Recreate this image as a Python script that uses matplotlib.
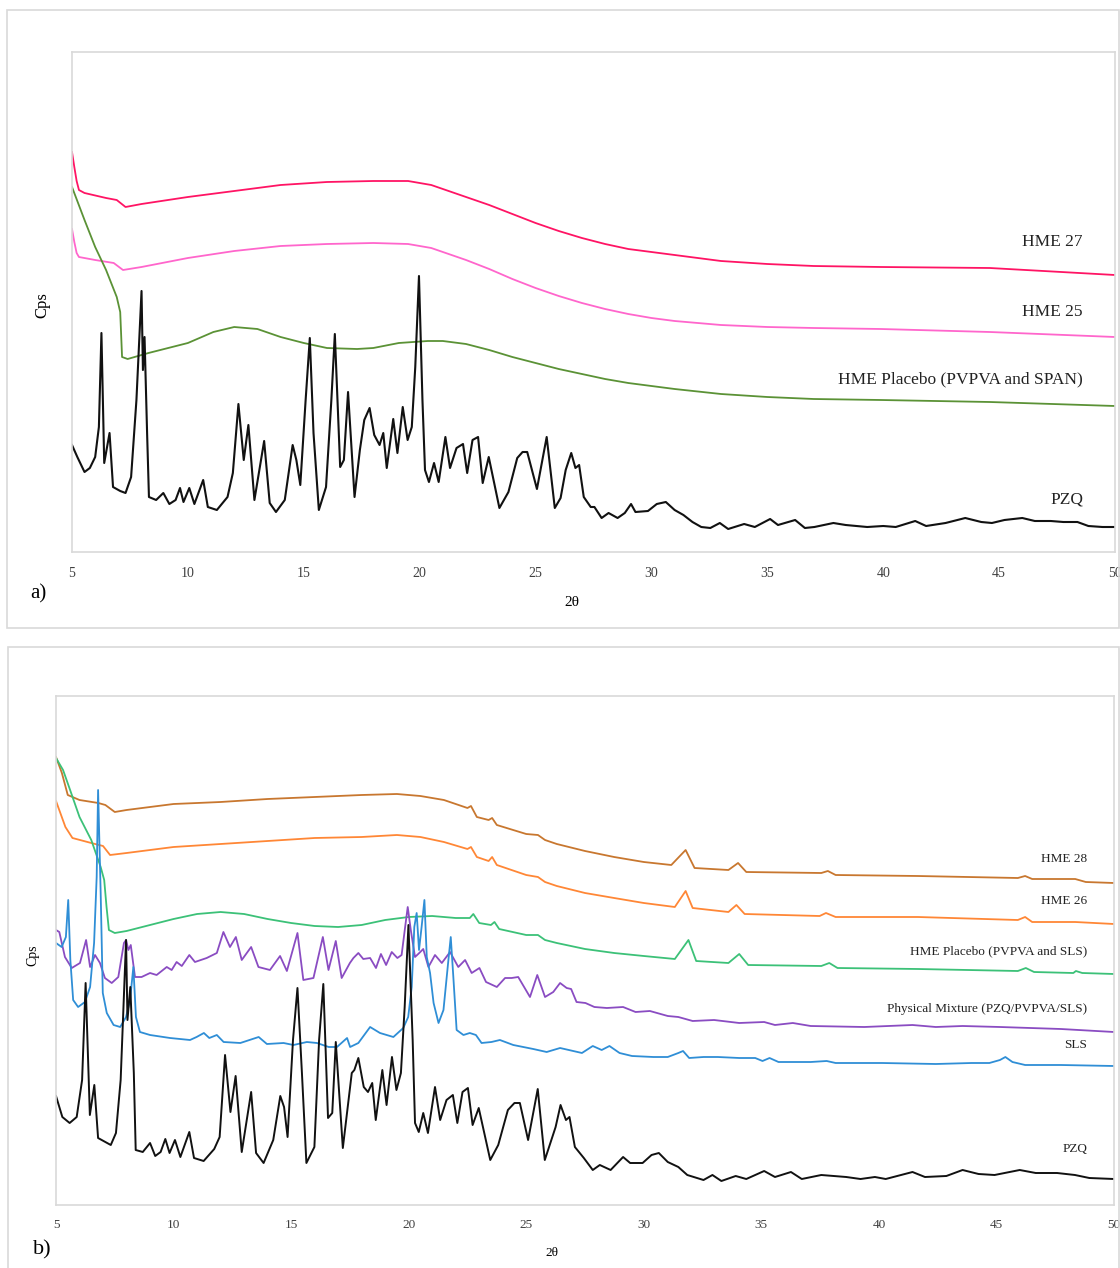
import numpy as np
import matplotlib.pyplot as plt
from matplotlib.patches import Rectangle

# ---- panel a: (2theta, counts in arbitrary units) ----
a_hme27 = [(5.0, 400), (5.1, 385), (5.2, 371), (5.3, 362), (5.54, 359), (6.47, 354), (6.93, 352),
           (7.31, 345), (8.0, 348), (10, 355), (12, 361), (14, 367), (16, 370), (18, 371),
           (19.5, 371), (20.5, 367), (21, 363), (22, 355), (23, 347), (24, 338), (25, 329),
           (26, 321), (27, 314), (28, 308), (29, 303), (30, 300), (31, 297), (33, 291),
           (35, 288), (37, 286), (39.9, 285), (44.6, 284), (50, 277)]
a_hme25 = [(5.0, 323), (5.1, 310), (5.2, 299), (5.3, 295), (6.0, 292), (6.8, 289), (7.2, 282),
           (8.0, 285), (10, 294), (12, 301), (14, 306), (16, 308), (18, 309), (19.5, 308),
           (20.5, 304), (21, 300), (22, 292), (23, 283), (24, 273), (25, 264), (26, 256),
           (27, 249), (28, 243), (29, 238), (30, 234), (31, 231), (33, 227), (35, 225),
           (37, 224), (39.9, 223), (44.6, 220), (50, 215)]
a_placebo = [(5.0, 365), (5.54, 332), (6.0, 305), (6.47, 282), (6.93, 255), (7.08, 240),
             (7.16, 195), (7.4, 193), (8.3, 199), (10, 209), (11.1, 220), (12, 225),
             (13, 223), (14, 215), (15, 209), (16, 204), (17.3, 203), (18, 204), (19.1, 209),
             (20.35, 211), (21, 211), (22, 208), (23, 202), (24, 195), (25, 189), (26, 183),
             (27, 178), (28, 173), (29, 169), (30, 166), (31, 163), (33, 158), (35, 155),
             (37, 153), (39.9, 152), (44.6, 150), (50, 146)]
a_pzq = [(5.0, 107), (5.23, 95), (5.54, 80), (5.77, 84), (6.0, 95), (6.16, 125), (6.27, 219),
         (6.39, 89), (6.62, 119), (6.77, 65), (7.08, 61), (7.31, 59), (7.55, 75), (7.78, 152),
         (8.0, 261), (8.06, 182), (8.13, 215), (8.24, 119), (8.32, 55), (8.63, 52), (8.94, 59),
         (9.2, 48), (9.47, 52), (9.66, 64), (9.81, 50), (10.06, 64), (10.28, 48), (10.66, 72),
         (10.86, 45), (11.25, 42), (11.71, 55), (11.94, 79), (12.18, 148), (12.41, 92),
         (12.61, 127), (12.87, 52), (13.29, 111), (13.53, 49), (13.8, 40), (14.18, 52),
         (14.52, 107), (14.68, 92), (14.85, 67), (15.08, 152), (15.26, 214), (15.42, 119),
         (15.65, 42), (15.96, 65), (16.19, 152), (16.34, 218), (16.57, 85), (16.73, 92),
         (16.91, 160), (17.19, 55), (17.42, 102), (17.61, 132), (17.84, 144), (18.04, 117),
         (18.27, 107), (18.43, 119), (18.58, 84), (18.86, 133), (19.04, 99), (19.27, 145),
         (19.48, 112), (19.66, 125), (19.81, 185), (19.97, 276), (20.12, 152), (20.23, 82),
         (20.4, 70), (20.62, 89), (20.82, 70), (21.11, 115), (21.31, 84), (21.59, 104),
         (21.87, 108), (22.05, 79), (22.28, 112), (22.52, 115), (22.72, 69), (22.98, 95),
         (23.44, 44), (23.83, 60), (24.21, 94), (24.44, 100), (24.64, 100), (25.06, 63),
         (25.48, 115), (25.83, 44), (26.08, 54), (26.3, 82), (26.54, 99), (26.72, 84),
         (26.88, 87), (27.08, 55), (27.38, 45), (27.54, 45), (27.85, 34), (28.15, 39),
         (28.54, 34), (28.85, 39), (29.12, 48), (29.31, 40), (29.85, 41), (30.23, 48),
         (30.62, 50), (31.0, 42), (31.38, 37), (31.77, 30), (32.15, 25), (32.54, 24),
         (32.95, 29), (33.31, 23), (34.0, 28), (34.46, 25), (35.12, 33), (35.46, 27),
         (36.2, 32), (36.62, 24), (37.03, 25), (37.85, 29), (38.38, 27), (39.31, 25),
         (40.0, 26), (40.54, 25), (41.38, 31), (41.85, 26), (42.69, 29), (43.54, 34),
         (44.23, 30), (44.69, 29), (45.23, 32), (46.0, 34), (46.54, 31), (47.23, 31),
         (47.77, 30), (48.38, 30), (48.85, 26), (49.46, 25), (50.0, 25)]

# ---- panel b ----
b_hme28 = [(5.0, 448), (5.25, 432), (5.5, 410), (6.0, 405), (6.8, 402), (7.1, 400), (7.5, 393),
           (8.0, 395), (10, 401), (12, 403), (14, 406), (16, 408), (18, 410), (19.5, 411),
           (20.5, 409), (21.5, 405), (22.5, 397), (22.65, 399), (22.9, 388), (23.4, 385),
           (23.55, 387), (23.75, 380), (25, 371), (25.5, 370), (25.8, 365), (26.3, 361),
           (27.5, 354), (28.74, 348), (30, 343), (31.17, 340), (31.78, 355), (32.16, 337),
           (33.6, 335), (34.01, 342), (34.36, 333), (37.55, 332), (37.83, 334), (38.16, 330),
           (41.66, 329), (45.91, 327), (46.22, 329), (46.52, 326), (48.35, 326), (48.8, 323),
           (50, 322)]
b_hme26 = [(5.0, 404), (5.4, 378), (5.7, 367), (6.5, 362), (7.0, 359), (7.3, 350), (8.0, 352),
           (10, 358), (12, 361), (14, 364), (16, 367), (18, 368), (19.5, 370), (20.5, 368),
           (21.5, 363), (22.5, 356), (22.65, 358), (22.9, 348), (23.4, 344), (23.55, 348),
           (23.75, 340), (25, 330), (25.5, 328), (25.8, 323), (26.3, 319), (27.5, 312),
           (28.74, 307), (30, 302), (31.32, 298), (31.78, 314), (32.08, 297), (33.6, 293),
           (33.94, 300), (34.29, 291), (37.48, 289), (37.75, 292), (38.16, 288), (41.66, 288),
           (45.91, 285), (46.22, 288), (46.52, 283), (48.35, 283), (50, 281)]
b_placebo = [(5.0, 447), (5.3, 435), (5.6, 415), (6.0, 388), (6.5, 365), (6.9, 338), (7.05, 325),
             (7.15, 298), (7.25, 275), (7.5, 272), (8.0, 274), (9, 280), (10, 286), (11, 291),
             (12, 293), (13, 291), (14, 286), (15, 282), (16, 279), (17, 278), (18, 280),
             (19, 285), (20, 288), (21, 289), (22, 287), (22.6, 287), (22.75, 291), (23.0, 282),
             (23.5, 280), (23.65, 283), (23.85, 276), (25, 270), (25.5, 270), (25.8, 265),
             (26.3, 262), (27.5, 256), (28.74, 252), (30, 249), (31.32, 246), (31.9, 265),
             (32.23, 244), (33.6, 242), (34.06, 251), (34.44, 240), (37.55, 239), (37.89, 242),
             (38.24, 237), (41.66, 236), (45.91, 234), (46.25, 237), (46.6, 233), (48.27, 232),
             (48.38, 234), (48.65, 232), (50, 231)]
b_mixture = [(5.0, 275), (5.14, 273), (5.38, 248), (5.67, 237), (6.02, 242), (6.28, 265),
             (6.45, 238), (6.66, 250), (6.87, 242), (7.08, 227), (7.37, 222), (7.65, 228),
             (7.89, 262), (7.98, 265), (8.08, 255), (8.18, 260), (8.36, 228), (8.64, 228),
             (9.0, 232), (9.28, 230), (9.71, 238), (9.92, 235), (10.13, 243), (10.35, 239),
             (10.67, 250), (10.91, 243), (11.41, 247), (11.84, 252), (12.12, 273), (12.4, 258),
             (12.65, 268), (12.9, 245), (13.3, 258), (13.61, 238), (14.1, 235), (14.53, 249),
             (14.82, 234), (15.27, 272), (15.52, 225), (15.95, 227), (16.35, 268), (16.59, 235),
             (16.9, 264), (17.15, 227), (17.5, 242), (17.65, 247), (17.86, 252), (18.07, 246),
             (18.36, 247), (18.61, 237), (18.82, 251), (19.04, 240), (19.28, 253), (19.52, 247),
             (19.7, 250), (19.85, 278), (19.96, 298), (20.09, 275), (20.27, 248), (20.45, 252),
             (20.62, 256), (20.84, 238), (21.12, 250), (21.41, 242), (21.76, 253), (22.11, 238),
             (22.4, 245), (22.68, 232), (23.01, 237), (23.29, 223), (23.75, 218), (24.1, 227),
             (24.38, 227), (24.66, 228), (25.16, 208), (25.47, 230), (25.8, 208), (26.15, 213),
             (26.44, 222), (26.72, 217), (26.91, 216), (27.14, 203), (27.52, 202), (27.9, 198),
             (28.43, 197), (29.12, 198), (29.65, 193), (30.26, 194), (31.02, 189), (31.47, 188),
             (32.08, 184), (32.99, 185), (34.06, 182), (35.12, 183), (35.58, 180), (36.34, 182),
             (37.1, 179), (39.38, 178), (41.43, 180), (42.42, 178), (43.56, 179), (45.15, 178),
             (47.74, 176), (50, 173)]
b_sls = [(5.0, 262), (5.24, 258), (5.42, 268), (5.52, 305), (5.61, 245), (5.73, 205),
         (5.94, 198), (6.23, 203), (6.45, 218), (6.62, 262), (6.73, 328), (6.79, 415),
         (6.9, 312), (6.99, 212), (7.16, 192), (7.45, 180), (7.73, 178), (7.98, 188),
         (8.15, 205), (8.29, 238), (8.4, 188), (8.57, 173), (9.0, 170), (9.85, 167), (10.7, 165),
         (10.98, 168), (11.29, 172), (11.52, 167), (11.84, 170), (12.13, 163), (12.84, 162),
         (13.62, 168), (13.97, 161), (14.68, 162), (15.1, 160), (15.67, 163), (16.1, 162),
         (16.6, 158), (16.95, 158), (17.38, 167), (17.51, 158), (17.86, 162), (18.36, 178),
         (18.78, 172), (19.35, 168), (19.77, 177), (19.98, 188), (20.13, 218), (20.24, 278),
         (20.34, 292), (20.44, 255), (20.55, 278), (20.67, 305), (20.77, 248), (20.91, 232),
         (21.06, 202), (21.27, 182), (21.48, 195), (21.69, 245), (21.79, 268), (21.9, 228),
         (22.04, 175), (22.33, 170), (22.6, 172), (22.86, 170), (23.1, 162), (23.52, 163),
         (23.88, 165), (24.45, 160), (25.3, 156), (25.87, 153), (26.44, 157), (27.37, 152),
         (27.83, 159), (28.21, 155), (28.54, 159), (28.97, 152), (29.5, 149), (30.41, 148),
         (31.02, 148), (31.47, 152), (31.67, 154), (31.93, 147), (32.54, 148), (33.15, 148),
         (34.06, 147), (34.74, 147), (35.05, 144), (35.35, 147), (35.73, 143), (37.1, 143),
         (37.78, 144), (38.16, 142), (40.14, 142), (42.42, 141), (43.94, 142), (44.7, 142),
         (45.15, 145), (45.38, 148), (45.68, 143), (46.22, 140), (47.74, 140), (50, 139)]
b_pzq = [(5.0, 109), (5.27, 88), (5.58, 82), (5.88, 88), (6.11, 125), (6.26, 222), (6.44, 90),
         (6.63, 120), (6.79, 67), (7.1, 63), (7.33, 60), (7.55, 72), (7.75, 125), (7.98, 265),
         (8.04, 185), (8.16, 218), (8.31, 132), (8.39, 55), (8.69, 53), (9.0, 62), (9.22, 49),
         (9.45, 53), (9.65, 66), (9.83, 52), (10.06, 65), (10.29, 48), (10.67, 73), (10.87, 47),
         (11.28, 44), (11.73, 56), (11.96, 68), (12.19, 150), (12.42, 93), (12.64, 129),
         (12.9, 53), (13.3, 113), (13.51, 52), (13.83, 42), (14.24, 65), (14.54, 109), (14.7, 98),
         (14.85, 68), (15.08, 165), (15.27, 217), (15.46, 132), (15.65, 42), (15.99, 58),
         (16.19, 165), (16.37, 221), (16.57, 87), (16.75, 92), (16.9, 163), (17.2, 57),
         (17.58, 132), (17.69, 135), (17.86, 147), (18.09, 118), (18.27, 113), (18.45, 122),
         (18.6, 85), (18.88, 135), (19.06, 100), (19.29, 148), (19.48, 115), (19.67, 132),
         (19.83, 198), (19.99, 280), (20.17, 165), (20.27, 82), (20.43, 73), (20.62, 92),
         (20.82, 72), (21.12, 118), (21.34, 85), (21.61, 105), (21.88, 110), (22.07, 82),
         (22.29, 113), (22.52, 117), (22.72, 80), (22.98, 97), (23.47, 45), (23.81, 60),
         (24.22, 95), (24.5, 102), (24.73, 102), (25.08, 65), (25.49, 116), (25.79, 45),
         (26.25, 78), (26.46, 100), (26.69, 85), (26.84, 88), (27.07, 58), (27.45, 47),
         (27.83, 35), (28.13, 40), (28.59, 35), (29.12, 48), (29.42, 42), (29.95, 42),
         (30.33, 50), (30.64, 52), (31.02, 43), (31.47, 38), (31.85, 30), (32.54, 25),
         (32.92, 30), (33.3, 24), (33.91, 29), (34.36, 26), (35.12, 34), (35.58, 28),
         (36.26, 33), (36.72, 26), (37.55, 30), (38.61, 28), (39.22, 26), (39.83, 28),
         (40.29, 26), (41.43, 33), (41.96, 28), (42.87, 29), (43.56, 35), (44.24, 31),
         (44.92, 30), (45.99, 35), (46.67, 32), (47.58, 32), (48.34, 30), (48.95, 27), (50, 26)]

a_labels = ['HME 27', 'HME 25', 'HME Placebo (PVPVA and SPAN)', 'PZQ']
b_labels = ['HME 28', 'HME 26', 'HME Placebo (PVPVA and SLS)',
            'Physical Mixture (PZQ/PVPVA/SLS)', 'SLS', 'PZQ']
x_ticks = [5, 10, 15, 20, 25, 30, 35, 40, 45, 50]

plt.rcParams['font.family'] = ['Liberation Serif', 'DejaVu Serif']

W, H = 1120, 1268
fig = plt.figure(figsize=(W / 100, H / 100), dpi=100)

# outer panel frames
for (x0, y0, x1, y1) in [(7, 10, 1119, 628), (8, 647, 1119, 1275)]:
    fig.patches.append(Rectangle((x0 / W, 1 - y1 / H), (x1 - x0) / W, (y1 - y0) / H,
                                 transform=fig.transFigure, fill=False,
                                 edgecolor='#d9d9d9', lw=1.2))


def setup(ax, ymax, tick_fs, pad):
    ax.set_xlim(5, 50)
    ax.set_ylim(0, ymax)
    ax.set_xticks(x_ticks)
    ax.set_yticks([])
    ax.tick_params(axis='x', length=0, pad=pad, labelsize=tick_fs, colors='#404040')
    for s in ax.spines.values():
        s.set_color('#d9d9d9')
        s.set_linewidth(1.2)


def draw(ax, pts, color, lw=1.3):
    arr = np.array(pts, dtype=float)
    ax.plot(arr[:, 0], arr[:, 1], color=color, lw=lw, solid_joinstyle='round')


# panel a
axa = fig.add_axes([72 / W, 1 - 552 / H, (1115 - 72) / W, 500 / H])
setup(axa, 500, 10, 11)
draw(axa, a_hme27, '#ff1464')
draw(axa, a_hme25, '#ff66cc')
draw(axa, a_placebo, '#5b9236')
draw(axa, a_pzq, '#111111', 1.5)
for lab, y in zip(a_labels, [242, 312, 379, 500]):
    axa.text(1083 / W, 1 - y / H, lab, transform=fig.transFigure, ha='right', va='center',
             fontsize=12.5, color='#222222')
fig.text(42 / W, 1 - 305 / H, 'Cps', rotation=90, ha='center', va='center', fontsize=12)
fig.text(572 / W, 1 - 603 / H, '2θ', ha='center', va='center', fontsize=11)
fig.text(38 / W, 1 - 594 / H, 'a)', ha='center', va='center', fontsize=15)

# panel b
axb = fig.add_axes([56 / W, 1 - 1205 / H, (1114 - 56) / W, 509 / H])
setup(axb, 509, 9.5, 10)
draw(axb, b_hme28, '#c8772f')
draw(axb, b_hme26, '#ff8736')
draw(axb, b_placebo, '#3cc178')
draw(axb, b_mixture, '#8a4cc2')
draw(axb, b_sls, '#2f8ed6')
draw(axb, b_pzq, '#111111', 1.4)
for lab, y in zip(b_labels, [859, 901, 951, 1009, 1045, 1149]):
    axb.text(1087 / W, 1 - y / H, lab, transform=fig.transFigure, ha='right', va='center',
             fontsize=9.5, color='#222222')
fig.text(33 / W, 1 - 955 / H, 'Cps', rotation=90, ha='center', va='center', fontsize=10)
fig.text(552 / W, 1 - 1253 / H, '2θ', ha='center', va='center', fontsize=9.5)
fig.text(42 / W, 1 - 1250 / H, 'b)', ha='center', va='center', fontsize=16)

fig.savefig('out.png', dpi=100, facecolor='white')
